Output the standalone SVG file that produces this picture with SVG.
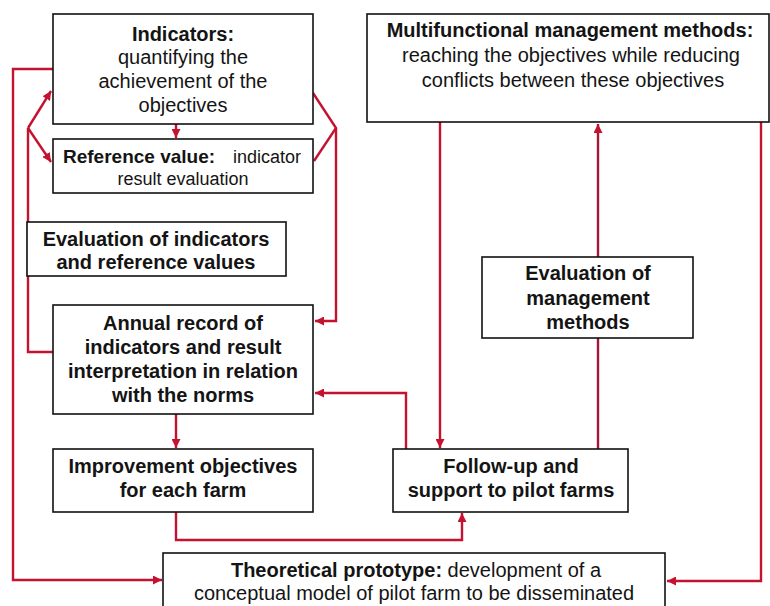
<svg xmlns="http://www.w3.org/2000/svg" width="770" height="606" viewBox="0 0 770 606">
<style>
.box{fill:#fff;stroke:#111;stroke-width:1.6}
.ln{fill:none;stroke:#c4122f;stroke-width:2.4;stroke-linejoin:miter}
.dk{stroke:#a3173a}
text{font-family:"Liberation Sans",Arial,sans-serif;fill:#141414;text-anchor:middle}
.b{font-weight:bold;font-size:20px}
.r{font-size:20px}
</style>
<defs>
<marker id="ah" viewBox="0 0 10 10" refX="10" refY="5" markerWidth="9" markerHeight="9" markerUnits="userSpaceOnUse" orient="auto">
<path d="M0,0 L10,5 L0,10 z" fill="#c4122f"/>
</marker>
</defs>
<rect width="770" height="606" fill="#fff"/>
<g id="connectors">
<path class="ln" d="M53,69 H13 V580 H162" marker-end="url(#ah)"/>
<path class="ln" d="M53,352 H28 V128"/>
<path class="ln" d="M28,128 L51,91" marker-end="url(#ah)"/>
<path class="ln" d="M28,128 L51,162" marker-end="url(#ah)"/>
<path class="ln" d="M176,124 V138" marker-end="url(#ah)"/>
<path class="ln" d="M313,93 L336,128 L314,161"/>
<path class="ln" d="M336,128 V321 H315" marker-end="url(#ah)"/>
<path class="ln" d="M176,414 V448" marker-end="url(#ah)"/>
<path class="ln" d="M406,449 V393 H315" marker-end="url(#ah)"/>
<path class="ln" d="M176,512 V540 H462 V513" marker-end="url(#ah)"/>
<path class="ln" d="M440,122 V448" marker-end="url(#ah)"/>
<path class="ln dk" d="M598,449 V124" marker-end="url(#ah)"/>
<path class="ln" d="M761,122 V581 H667" marker-end="url(#ah)"/>
</g>
<g id="indicators">
<rect class="box" x="53" y="14" width="260" height="110"/>
<text class="b" x="183" y="41">Indicators:</text>
<text class="r" x="183" y="64">quantifying the</text>
<text class="r" x="183" y="88">achievement of the</text>
<text class="r" x="183" y="112">objectives</text>
</g>
<g id="reference-value">
<rect class="box" x="53" y="139" width="260" height="54"/>
<text x="63" y="163" font-weight="bold" font-size="19" style="text-anchor:start">Reference value:</text>
<text x="233" y="163" font-size="18" style="text-anchor:start">indicator</text>
<text x="183" y="185" font-size="18">result evaluation</text>
</g>
<g id="evaluation-indicators">
<rect class="box" x="27" y="222" width="259" height="54"/>
<text class="b" x="156" y="246">Evaluation of indicators</text>
<text class="b" x="156" y="269">and reference values</text>
</g>
<g id="annual-record">
<rect class="box" x="53" y="305" width="260" height="109"/>
<text class="b" x="183" y="330">Annual record of</text>
<text class="b" x="183" y="354">indicators and result</text>
<text class="b" x="183" y="378">interpretation in relation</text>
<text class="b" x="183" y="402">with the norms</text>
</g>
<g id="improvement-objectives">
<rect class="box" x="53" y="449" width="260" height="63"/>
<text class="b" x="183" y="473">Improvement objectives</text>
<text class="b" x="183" y="497">for each farm</text>
</g>
<g id="multifunctional">
<rect class="box" x="367" y="14" width="402" height="108"/>
<text class="b" x="570" y="37">Multifunctional management methods:</text>
<text class="r" x="571" y="62">reaching the objectives while reducing</text>
<text class="r" x="573" y="87">conflicts between these objectives</text>
</g>
<g id="evaluation-management">
<rect class="box" x="482" y="257" width="211" height="81"/>
<text class="b" x="588" y="280">Evaluation of</text>
<text class="b" x="588" y="305">management</text>
<text class="b" x="588" y="329">methods</text>
</g>
<g id="follow-up">
<rect class="box" x="393" y="449" width="235" height="63"/>
<text class="b" x="511" y="473">Follow-up and</text>
<text class="b" x="511" y="497">support to pilot farms</text>
</g>
<g id="theoretical-prototype">
<rect class="box" x="163" y="553" width="502" height="60"/>
<text x="416" y="577"><tspan font-weight="bold" font-size="20">Theoretical prototype:</tspan><tspan font-size="20"> development of a</tspan></text>
<text class="r" x="414" y="600">conceptual model of pilot farm to be disseminated</text>
</g>
</svg>
